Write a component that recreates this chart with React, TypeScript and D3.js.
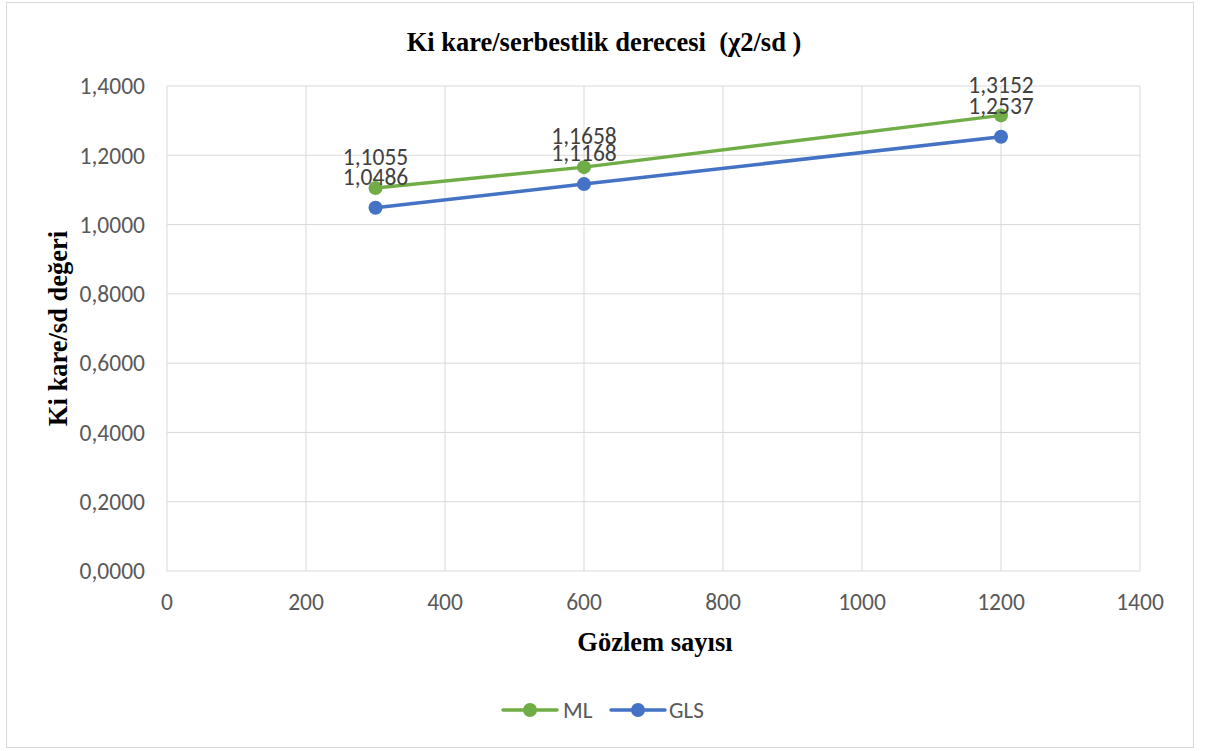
import React from "react";
import * as d3 from "d3";

const xValues = [300, 600, 1200];
const mlValues = [1.1055, 1.1658, 1.3152];
const glsValues = [1.0486, 1.1168, 1.2537];
const seriesNames = ["ML", "GLS"];
const xTicks = [0, 200, 400, 600, 800, 1000, 1200, 1400];
const yTicks = [0, 0.2, 0.4, 0.6, 0.8, 1.0, 1.2, 1.4];

const W = 1214;
const H = 751;
const plot = { left: 167, top: 86, right: 1140, bottom: 571 };
const colors = { ML: "#70AD47", GLS: "#4472C4" };
const sans = "Carlito, Calibri, 'Open Sans', sans-serif";
const serif = "'Liberation Serif', 'Times New Roman', serif";

const fmt = (v: number) => v.toFixed(4).replace(".", ",");

export default function App() {
  const x = d3.scaleLinear().domain([0, 1400]).range([plot.left, plot.right]);
  const y = d3.scaleLinear().domain([0, 1.4]).range([plot.bottom, plot.top]);
  const line = d3
    .line<[number, number]>()
    .x((d) => x(d[0]))
    .y((d) => y(d[1]));
  const series = [
    { name: seriesNames[0], values: mlValues, color: colors.ML },
    { name: seriesNames[1], values: glsValues, color: colors.GLS },
  ];
  const legendItems = [
    { name: "ML", color: colors.ML, x0: 503, tx: 563 },
    { name: "GLS", color: colors.GLS, x0: 611, tx: 669 },
  ];

  return (
    <svg width={W} height={H} style={{ position: "absolute", left: 0, top: 0 }}>
      <rect x={0} y={0} width={W} height={H} fill="#fff" />
      <rect x={6.5} y={2.5} width={1187} height={745} fill="#fff" stroke="#d9d9d9" strokeWidth={1} />
      {xTicks.map((t) => (
        <line key={"gx" + t} x1={x(t)} x2={x(t)} y1={plot.top} y2={plot.bottom} stroke="#d9d9d9" strokeWidth={1} />
      ))}
      {yTicks.map((t) => (
        <line key={"gy" + t} x1={plot.left} x2={plot.right} y1={y(t)} y2={y(t)} stroke="#d9d9d9" strokeWidth={1} />
      ))}
      {yTicks.map((t) => (
        <text key={"ty" + t} x={145} y={y(t)} dy="0.35em" textAnchor="end" fontFamily={sans} fontSize={23.5} fill="#595959">
          {fmt(t)}
        </text>
      ))}
      {xTicks.map((t) => (
        <text key={"tx" + t} x={x(t)} y={602} dy="0.35em" textAnchor="middle" fontFamily={sans} fontSize={23.5} fill="#595959">
          {t}
        </text>
      ))}
      <text x={604} y={42} dy="0.35em" textAnchor="middle" fontFamily={serif} fontSize={26.5} fontWeight="bold" fill="#000" style={{ whiteSpace: "pre" }}>
        {"Ki kare/serbestlik derecesi  (χ2/sd )"}
      </text>
      <text x={655} y={642} dy="0.35em" textAnchor="middle" fontFamily={serif} fontSize={26.5} fontWeight="bold" fill="#000">
        Gözlem sayısı
      </text>
      <text transform={`translate(58,${(plot.top + plot.bottom) / 2}) rotate(-90)`} dy="0.35em" textAnchor="middle" fontFamily={serif} fontSize={26.5} fontWeight="bold" fill="#000">
        Ki kare/sd değeri
      </text>
      {series.map((s) => (
        <g key={s.name}>
          <path d={line(xValues.map((xv, i) => [xv, s.values[i]]) as [number, number][]) || ""} fill="none" stroke={s.color} strokeWidth={3.5} strokeLinecap="round" />
          {xValues.map((xv, i) => (
            <circle key={i} cx={x(xv)} cy={y(s.values[i])} r={7} fill={s.color} />
          ))}
        </g>
      ))}
      {series.map((s) =>
        xValues.map((xv, i) => (
          <text key={s.name + "l" + i} x={x(xv)} y={y(s.values[i]) - 31} dy="0.35em" textAnchor="middle" fontFamily={sans} fontSize={23.5} fill="#404040">
            {fmt(s.values[i])}
          </text>
        ))
      )}
      {legendItems.map((l) => (
        <g key={l.name}>
          <line x1={l.x0} x2={l.x0 + 54} y1={710} y2={710} stroke={l.color} strokeWidth={3.5} strokeLinecap="round" />
          <circle cx={l.x0 + 27} cy={710} r={7} fill={l.color} />
          <text x={l.tx} y={710} dy="0.35em" fontFamily={sans} fontSize={23} fill="#595959">
            {l.name}
          </text>
        </g>
      ))}
    </svg>
  );
}
